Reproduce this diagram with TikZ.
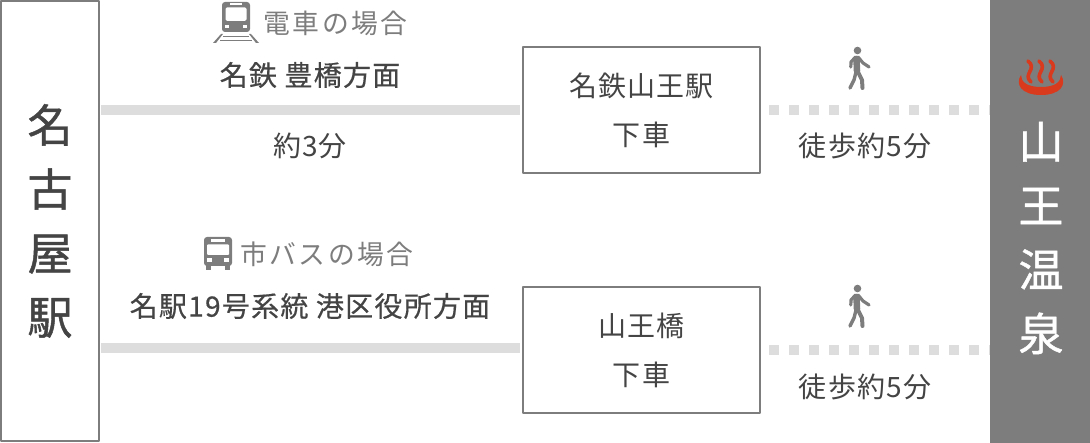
\documentclass[tikz,border=0pt]{standalone}
\usepackage{fontspec}
\setmainfont{Noto Sans CJK JP}
\newfontfamily\spacedfont[LetterSpace=4]{Noto Sans CJK JP}
\newfontfamily\headfont[LetterSpace=9]{Noto Sans CJK JP}
\newfontfamily\medfont[LetterSpace=4.5,FakeBold=0.5]{Noto Sans CJK JP}
\newfontfamily\bigfont[FakeBold=1]{Noto Sans CJK JP}
\newcommand{\lowtext}[1]{\raisebox{-4pt}{#1}}
\definecolor{txtc}{HTML}{444444}
\definecolor{grayc}{HTML}{7D7D7D}
\definecolor{linec}{HTML}{DDDDDD}
\definecolor{redc}{HTML}{D9391C}
\tikzset{
	stationbox/.style={draw=grayc, line width=2pt, fill=white, inner sep=0pt, align=center},
	stopbox/.style={stationbox, minimum width=237pt, minimum height=126pt, font=\spacedfont\fontsize{28}{49}\selectfont, text=txtc},
	railbar/.style={line width=10pt, draw=linec, shorten <=1pt, shorten >=2pt},
	walkbar/.style={line width=10pt, draw=linec, dash pattern=on 10pt off 10pt},
	headlabel/.style={font=\headfont\fontsize{26.8}{30}\selectfont, text=grayc},
	linelabel/.style={font=\medfont\fontsize{28}{30}\selectfont, text=txtc},
	timelabel/.style={font=\spacedfont\fontsize{28}{30}\selectfont, text=txtc}
}
\begin{document}
\begin{tikzpicture}[x=1pt, y=-1pt, line join=round, line cap=butt]
	\useasboundingbox (0,0) rectangle (1090,443);
	\node[stationbox, minimum width=98pt, minimum height=440pt, font=\bigfont\fontsize{45}{64}\selectfont, text=txtc] (nagoya) at (50,221) {\raisebox{-6pt}{名}\\\raisebox{-6pt}{古}\\\raisebox{-6pt}{屋}\\\raisebox{-6pt}{駅}};
	\node[fill=grayc, minimum width=100pt, minimum height=443pt, inner sep=0pt] (onsen) at (1040,221.5) {};
	\node[font=\bigfont\fontsize{45}{64}\selectfont, text=white, align=center] (onsenname) at (1041,238) {山\\王\\温\\泉};
	\node[stopbox] (sanno) at (641.5,110) {\lowtext{名鉄山王駅}\\\lowtext{下車}};
	\node[stopbox] (bashi) at (641.5,350) {\lowtext{山王橋}\\\lowtext{下車}};
	\draw[railbar] (nagoya.east |- sanno.west) -- (sanno.west);
	\draw[railbar] (nagoya.east |- 0,348) -- (bashi.west |- 0,348);
	\draw[walkbar] (sanno.east)+(8,0) -- (onsen.west |- sanno.east);
	\draw[walkbar] (bashi.east)+(8,0) -- (onsen.west |- bashi.east);
	\node[headlabel] (trainhead) at (335.5,23) {電車の場合};
	\node[headlabel] (bushead) at (327,254) {市バスの場合};
	\node[linelabel] (trainline) at (310,75) {名鉄 豊橋方面};
	\node[linelabel] (busline) at (310,306) {名駅19号系統 港区役所方面};
	\node[timelabel] (traintime) at (310,146) {約3分};
	\node[timelabel] (walktimea) at (865,146) {徒歩約5分};
	\node[timelabel] (walktimeb) at (865,387) {徒歩約5分};
	% train icon
	\begin{scope}[shift={(222,2)}]
		\fill[grayc, rounded corners=3pt] (0,0) rectangle (28,30);
		\fill[white, rounded corners=1.5pt] (3.5,5.5) rectangle (24.5,19);
		\fill[white] (8,1.5) rectangle (20,3.5);
		\fill[white] (3,23) rectangle (7,26);
		\fill[white] (21,23) rectangle (25,26);
		\fill[grayc] (-9,41) -- (-1,32) -- (1,32) -- (-6,41) -- cycle;
		\fill[grayc] (37,41) -- (29,32) -- (27,32) -- (34,41) -- cycle;
		\fill[grayc] (1,34) rectangle (27,35.5);
		\fill[grayc] (-2,38) rectangle (30,39.5);
	\end{scope}
	% bus icon
	\begin{scope}[shift={(204,237)}]
		\fill[grayc, rounded corners=3pt] (0,0) rectangle (28,29);
		\fill[grayc] (2,28) rectangle (7,33);
		\fill[grayc] (21,28) rectangle (26,33);
		\fill[white, rounded corners=1pt] (3,7.5) rectangle (25,18);
		\fill[white] (7,2) rectangle (21,5);
		\fill[white] (3,21.5) rectangle (8,25);
		\fill[white] (20,21.5) rectangle (25,25);
	\end{scope}
	% walker icons
	\foreach \wx/\wy in {849/46,849/284}{
		\begin{scope}[shift={(\wx,\wy)}]
			\fill[grayc] (8.5,4.5) circle (3.8);
			\draw[grayc, line width=6.5pt, line cap=round] (7.5,13) -- (8,25);
			\draw[grayc, line width=3.2pt, line cap=round] (6.5,11) -- (2,16) -- (1.8,21);
			\draw[grayc, line width=3.2pt, line cap=round] (9,11) -- (14,17) -- (20,21);
			\draw[grayc, line width=3.4pt, line cap=round] (7,26) -- (5,34) -- (1,42);
			\draw[grayc, line width=4pt, line cap=round] (9,26) -- (13,34) -- (13.5,42);
		\end{scope}
	}
	% hot spring mark
	\begin{scope}[shift={(1041,78)}]
		\fill[redc] (-20,-3) .. controls (-26,6) and (-20,17) .. (0,17) .. controls (20,17) and (26,6) .. (20,-3) .. controls (20,4) and (14,9) .. (0,9) .. controls (-14,9) and (-20,4) .. (-20,-3) -- cycle;
		\foreach \sx in {-11,0,11}{
			\draw[redc, line width=3.6pt, line cap=round] (\sx-2,-17) .. controls (\sx+8,-9) and (\sx-8,-4) .. (\sx+1,4);
		}
	\end{scope}
\end{tikzpicture}
\end{document}
